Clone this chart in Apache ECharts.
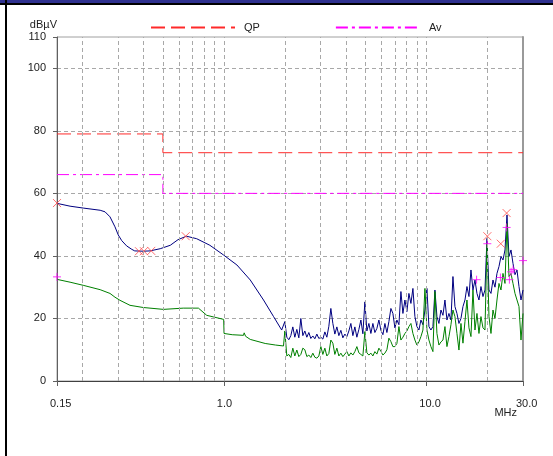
<!DOCTYPE html>
<html>
<head>
<meta charset="utf-8">
<script src="https://cdn.jsdelivr.net/npm/echarts@6/dist/echarts.min.js"></script>
<style>
  html, body { margin: 0; padding: 0; background: #ffffff; }
  #chart { width: 553px; height: 456px; }
</style>
</head>
<body>
<div id="chart"></div>
<script>
// Frequency range of the scan (MHz)
const freqMin = 0.15;
const freqMax = 30;
// Dashed vertical grid positions (MHz)
const gridFreqs = [0.2, 0.3, 0.4, 0.5, 0.6, 0.7, 0.8, 0.9, 1, 2, 3, 4, 5, 6, 7, 8, 9, 10, 20];

// Limit lines (dBµV)
const qpLimitFreq = [0.15, 0.5, 0.5, 30];
const qpLimitLevel = [79, 79, 73, 73];
const avLimitFreq = [0.15, 0.5, 0.5, 30];
const avLimitLevel = [66, 66, 60, 60];

// Quasi-peak scan, 0.15 - 2 MHz
const qpLowFreq = [0.150, 0.174, 0.202, 0.245, 0.259, 0.274, 0.290, 0.301, 0.313, 0.331, 0.351, 0.363,
  0.400, 0.432, 0.485, 0.544, 0.594, 0.654, 0.734, 0.853, 0.996, 1.16, 1.35, 1.57, 1.76, 1.93];
const qpLowLevel = [56.8, 55.9, 55.3, 54.6, 54.1, 52.5, 49.3, 46.7, 44.9, 43.2, 42.1, 41.6,
  41.5, 41.6, 42.3, 43.4, 45.2, 46.3, 45.5, 43.4, 40.3, 37.1, 32.3, 25.9, 20.6, 16.3];

// Average scan, 0.15 - 2 MHz
const avLowFreq = [0.150, 0.174, 0.202, 0.245, 0.274, 0.290, 0.307, 0.344, 0.400, 0.503, 0.630, 0.749,
  0.823, 0.887, 0.998, 1.002, 1.10, 1.25, 1.26, 1.28, 1.35, 1.60, 1.80, 1.97];
const avLowLevel = [32.5, 31.6, 30.6, 29.2, 28.0, 26.8, 25.8, 24.2, 23.5, 22.9, 23.3, 23.3,
  21.0, 20.5, 19.7, 15.2, 14.8, 14.6, 15.4, 14.3, 13.3, 12.0, 11.5, 11.2];

// 2 - 30 MHz sweep, logarithmically spaced points
const sweepStart = 2.0;
const sweepStop = 30;
const qpSweepLevel = [
  19.0, 14.0, 13.2, 14.5, 17.3, 14.0, 16.5, 13.8, 20.0, 14.5,
  16.0, 14.0, 15.5, 13.6, 14.4, 13.5, 15.0, 13.6, 14.0, 13.4,
  15.7, 14.0, 17.5, 23.2, 18.4, 15.0, 17.3, 14.5, 16.2, 13.8,
  15.0, 14.2, 16.0, 18.4, 14.5, 17.3, 14.0, 16.5, 19.5, 15.1,
  25.3, 16.0, 18.4, 15.2, 18.4, 15.5, 16.8, 19.5, 16.2, 14.8,
  18.4, 15.5, 19.0, 23.2, 21.6, 17.0, 19.5, 18.0, 28.6, 21.6,
  25.9, 22.2, 28.0, 24.8, 29.6, 20.6, 17.4, 16.3, 19.5, 18.0,
  22.7, 29.6, 17.4, 16.3, 17.4, 29.1, 20.6, 18.4, 22.7, 21.0,
  25.9, 19.5, 21.6, 19.5, 33.4, 23.8, 21.6, 18.4, 20.0, 23.8,
  25.9, 30.2, 27.0, 35.5, 29.1, 32.3, 28.0, 25.9, 30.2, 27.0,
  29.1, 45.6, 29.1, 28.0, 32.3, 30.0, 34.4, 36.6, 39.8, 38.7,
  41.9, 53.1, 39.8, 41.9, 37.6, 34.0, 35.5, 30.2, 25.9, 29.1
];
const avSweepLevel = [
  16.0, 8.0, 8.5, 7.5, 10.5, 8.0, 9.9, 7.8, 8.5, 10.5,
  10.0, 7.8, 8.3, 7.5, 8.9, 7.6, 7.3, 8.0, 11.0, 8.5,
  10.5, 8.0, 8.8, 13.1, 12.1, 8.5, 10.5, 8.0, 8.9, 7.8,
  8.6, 9.4, 8.0, 9.0, 8.3, 9.4, 11.0, 9.0, 8.5, 8.0,
  15.8, 9.0, 8.3, 8.9, 8.0, 9.4, 8.6, 10.5, 9.5, 8.3,
  8.9, 10.0, 13.7, 12.6, 11.0, 11.0, 12.0, 17.4, 13.1, 14.0,
  15.2, 16.0, 17.4, 18.4, 15.2, 13.1, 11.5, 12.5, 14.2, 16.3,
  29.6, 16.3, 13.1, 11.0, 9.4, 28.6, 15.2, 11.5, 12.5, 13.1,
  17.4, 11.0, 14.2, 18.0, 22.7, 20.6, 15.2, 9.9, 18.4, 12.1,
  19.0, 25.9, 17.0, 14.2, 29.1, 16.3, 21.6, 15.2, 20.6, 17.0,
  16.3, 44.0, 20.6, 15.2, 22.7, 20.0, 25.9, 31.2, 29.1, 34.4,
  31.2, 50.4, 33.4, 34.4, 31.2, 28.0, 25.9, 23.8, 13.1, 21.6
];

// Final measurements
const qpPeakFreq = [0.15, 0.381, 0.403, 0.438, 0.648, 20.0, 23.3, 24.9];
const qpPeakLevel = [56.9, 41.5, 41.5, 41.6, 46.3, 46.3, 43.9, 53.7];
const avPeakFreq = [0.15, 17.7, 20.0, 23.2, 24.9, 25.7, 26.2, 26.8, 30.0];
const avPeakLevel = [33.3, 32.4, 43.9, 33.1, 49.1, 32.4, 34.9, 35.6, 38.5];

// ---- build series data ----
const zip = (xs, ys) => xs.map((x, i) => [x, ys[i]]);
const sweepFreq = (n, i) => sweepStart * Math.pow(sweepStop / sweepStart, i / (n - 1));
const sweepPairs = (levels) => levels.map((v, i) => [sweepFreq(levels.length, i), v]);

const qpTrace = zip(qpLowFreq, qpLowLevel).concat(sweepPairs(qpSweepLevel));
const avTrace = zip(avLowFreq, avLowLevel).concat(sweepPairs(avSweepLevel));

const FONT = '"Liberation Sans", Arial, sans-serif';
const TEXT = '#222222';
const GRID_LINE = '#a8a8a8';

const chart = echarts.init(document.getElementById('chart'), null, { renderer: 'canvas' });

chart.setOption({
  animation: false,
  backgroundColor: '#ffffff',
  textStyle: { fontFamily: FONT, fontSize: 11, color: TEXT },
  graphic: [
    { type: 'rect', shape: { x: 0, y: 0, width: 553, height: 3 }, style: { fill: '#2f318f' }, z: 100 },
    { type: 'rect', shape: { x: 0, y: 3, width: 553, height: 2 }, style: { fill: '#000000' }, z: 100 },
    { type: 'rect', shape: { x: 5, y: 0, width: 2, height: 456 }, style: { fill: '#000000' }, z: 101 }
  ],
  legend: {
    data: ['QP', 'Av'],
    left: 145,
    top: 17,
    itemWidth: 84,
    itemHeight: 12,
    itemGap: 75,
    selectedMode: false,
    itemStyle: { opacity: 0 },
    textStyle: { fontFamily: FONT, fontSize: 11, color: TEXT, padding: [0, 0, 0, 4] }
  },
  grid: {
    left: 57, right: 30, top: 37, bottom: 75,
    containLabel: false,
    outerBoundsMode: 'none',
    show: true, borderColor: '#a0a0a0', borderWidth: 1
  },
  xAxis: {
    type: 'log',
    logBase: 10,
    min: freqMin,
    max: freqMax,
    name: 'MHz',
    nameLocation: 'end',
    nameGap: -6,
    nameMoveOverlap: false,
    nameTextStyle: { fontFamily: FONT, fontSize: 11, color: TEXT, align: 'right', verticalAlign: 'top', padding: [26, 0, 0, 0] },
    axisLine: { show: true, lineStyle: { color: '#404040', width: 1 } },
    axisTick: { show: true, length: 5, lineStyle: { color: '#606060' } },
    minorTick: { show: false },
    splitLine: { show: false },
    axisLabel: {
      fontFamily: FONT, fontSize: 11, color: TEXT,
      margin: 17, align: 'left', padding: [0, 0, 0, -7],
      showMinLabel: true, showMaxLabel: true,
      formatter: (v) => (v < 1 ? Number(v).toFixed(2) : Number(v).toFixed(1))
    }
  },
  yAxis: [
    {
      type: 'value',
      min: 0,
      max: 110,
      interval: 20,
      name: 'dBµV',
      nameLocation: 'end',
      nameGap: 7,
      nameTextStyle: { fontFamily: FONT, fontSize: 11, color: TEXT, align: 'right', verticalAlign: 'bottom' },
      axisLine: { show: true, lineStyle: { color: '#606060', width: 1 } },
      axisTick: { show: true, length: 4, lineStyle: { color: '#606060' } },
      splitLine: { show: true, showMinLine: false, showMaxLine: false, lineStyle: { color: GRID_LINE, type: [4, 3], width: 1 } },
      axisLabel: { fontFamily: FONT, fontSize: 11, color: TEXT, margin: 11 }
    },
    {
      type: 'value',
      position: 'right',
      min: 0,
      max: 110,
      axisLine: { show: true, lineStyle: { color: '#9a9a9a', width: 2 } },
      axisTick: { show: false },
      axisLabel: { show: false },
      splitLine: { show: false }
    }
  ],
  series: [
    {
      name: 'QP',
      type: 'line',
      data: zip(qpLimitFreq, qpLimitLevel),
      symbol: 'none',
      z: 2,
      lineStyle: { color: '#ff2a2a', width: 1, type: [14, 6] },
      itemStyle: { color: '#ff2a2a' },
      markLine: {
        silent: true,
        symbol: ['none', 'none'],
        label: { show: false },
        lineStyle: { color: GRID_LINE, type: [4, 3], width: 1 },
        data: gridFreqs.map((f) => ({ xAxis: f }))
      }
    },
    {
      name: 'Av',
      type: 'line',
      data: zip(avLimitFreq, avLimitLevel),
      symbol: 'none',
      z: 2,
      lineStyle: { color: '#ff00ff', width: 1, type: [12, 4, 3, 4] },
      itemStyle: { color: '#ff00ff' }
    },
    {
      name: 'QP scan',
      type: 'line',
      data: qpTrace,
      symbol: 'none',
      z: 3,
      lineStyle: { color: '#000080', width: 1 },
      itemStyle: { color: '#000080' }
    },
    {
      name: 'Av scan',
      type: 'line',
      data: avTrace,
      symbol: 'none',
      z: 3,
      lineStyle: { color: '#008000', width: 1 },
      itemStyle: { color: '#008000' }
    },
    {
      name: 'QP final',
      type: 'scatter',
      data: zip(qpPeakFreq, qpPeakLevel),
      symbol: 'path://M0,0L10,10M10,0L0,10',
      symbolSize: 8,
      z: 4,
      itemStyle: { color: 'rgba(0,0,0,0)', borderColor: '#ff4a4a', borderWidth: 1 }
    },
    {
      name: 'Av final',
      type: 'scatter',
      data: zip(avPeakFreq, avPeakLevel),
      symbol: 'path://M0,5L10,5M5,0L5,10',
      symbolSize: 8,
      z: 4,
      itemStyle: { color: 'rgba(0,0,0,0)', borderColor: '#ff00ff', borderWidth: 1 }
    }
  ]
});
</script>
</body>
</html>
